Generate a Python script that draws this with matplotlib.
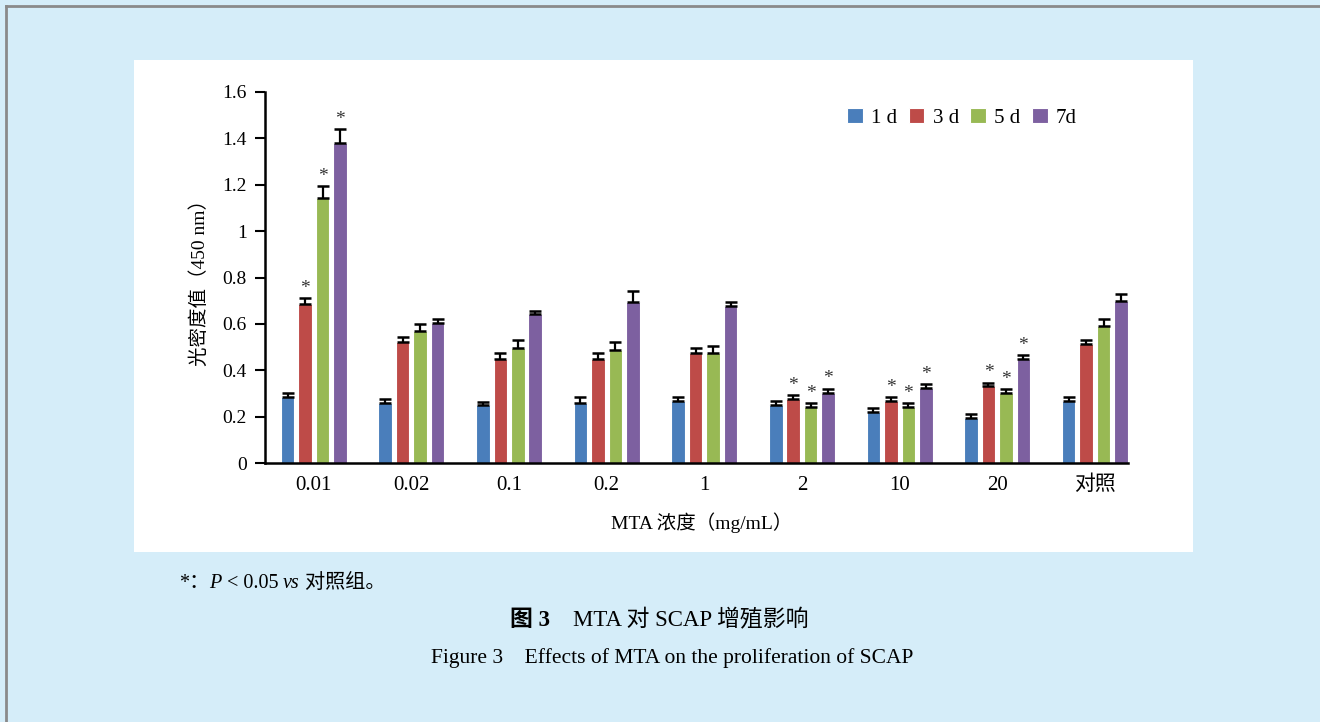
import matplotlib
matplotlib.use("Agg")
import matplotlib.pyplot as plt
from matplotlib.patches import Rectangle
import numpy as np

plt.rcParams['font.family'] = ['Liberation Serif', 'Noto Sans CJK SC', 'DejaVu Sans']

# --- data -------------------------------------------------------------
categories = ["0.01", "0.02", "0.1", "0.2", "1", "2", "10", "20", "对照"]
series_names = ["1 d", "3 d", "5 d", "7d"]
day1 = [0.286, 0.260, 0.250, 0.260, 0.267, 0.249, 0.221, 0.194, 0.267]
day3 = [0.686, 0.522, 0.450, 0.450, 0.476, 0.276, 0.267, 0.332, 0.512]
day5 = [1.141, 0.571, 0.496, 0.486, 0.476, 0.240, 0.240, 0.303, 0.592]
day7 = [1.381, 0.604, 0.641, 0.696, 0.677, 0.303, 0.322, 0.450, 0.700]
err1 = [0.014, 0.015, 0.013, 0.023, 0.018, 0.017, 0.015, 0.017, 0.018]
err3 = [0.024, 0.023, 0.024, 0.026, 0.018, 0.017, 0.016, 0.014, 0.018]
err5 = [0.053, 0.029, 0.033, 0.034, 0.027, 0.017, 0.017, 0.016, 0.029]
err7 = [0.059, 0.016, 0.016, 0.044, 0.017, 0.017, 0.017, 0.016, 0.030]
# significance markers (True = P < 0.05 vs control)
sig1 = [False] * 9
sig3 = [True, False, False, False, False, True, True, True, False]
sig5 = [True, False, False, False, False, True, True, True, False]
sig7 = [True, False, False, False, False, True, True, True, False]
yticks = [0, 0.2, 0.4, 0.6, 0.8, 1, 1.2, 1.4, 1.6]
ytick_labels = ["0", "0.2", "0.4", "0.6", "0.8", "1", "1.2", "1.4", "1.6"]

colors = ["#4a7ebb", "#be4b48", "#98b954", "#7d60a0"]

W, H = 1320, 722
fig = plt.figure(figsize=(W / 100, H / 100), dpi=100)
fig.patch.set_facecolor("#d5edf9")

# outer frame lines (top and left) and white chart panel
fig.add_artist(plt.Line2D([5.5 / W, 5.5 / W], [0, 1 - 5.5 / H], color="#8a8a8a", lw=2,
                          transform=fig.transFigure))
fig.add_artist(plt.Line2D([5.5 / W, 1], [1 - 5.5 / H, 1 - 5.5 / H], color="#8a8a8a", lw=2,
                          transform=fig.transFigure))
fig.add_artist(Rectangle((134 / W, 1 - 552 / H), (1193 - 134) / W, (552 - 60) / H,
                         transform=fig.transFigure, facecolor="white", edgecolor="none",
                         zorder=0))

ax = fig.add_axes([265 / W, 1 - 463 / H, (1128 - 265) / W, (463 - 92) / H])
ax.set_facecolor("none")

x = np.arange(len(categories))
pitch = 0.179
width = 0.139
values = [day1, day3, day5, day7]
errors = [err1, err3, err5, err7]
sigs = [sig1, sig3, sig5, sig7]
for i, (vals, errs, sg) in enumerate(zip(values, errors, sigs)):
    xs = x + (i - 1.5) * pitch
    ax.bar(xs, vals, width, color=colors[i], edgecolor="white", linewidth=0.8,
           label=series_names[i], zorder=2, clip_on=False)
    ax.errorbar(xs, vals, yerr=[np.zeros(len(vals)), errs], fmt="none", ecolor="black",
                elinewidth=1.6, capsize=4.3, capthick=1.8, zorder=3, clip_on=False)
    for xi, v, e, s in zip(xs, vals, errs, sg):
        if s:
            ax.annotate("*", (xi, v + e), xytext=(0, 1), textcoords="offset points",
                        ha="center", va="bottom", fontsize=14, color="#333333")

ax.set_xlim(-0.5, len(categories) - 1 + 0.34)
ax.set_ylim(0, 1.6)
ax.set_yticks(yticks)
ax.set_yticklabels(ytick_labels, fontsize=14)
ax.set_xticks(x)
ax.set_xticklabels(categories, fontsize=15)
ax.tick_params(axis="x", length=0, pad=9)
ax.tick_params(axis="y", length=7, width=1.5, direction="out", pad=6)
for side in ("top", "right"):
    ax.spines[side].set_visible(False)
for side in ("left", "bottom"):
    ax.spines[side].set_linewidth(1.8)

ax.set_ylabel("光密度值（450 nm）", fontsize=14)
ax.yaxis.set_label_coords(-56 / 863, 0.5)
fig.text(702 / W, 1 - 523 / H, "MTA 浓度（mg/mL）", fontsize=14, ha="center", va="center")

leg = ax.legend(loc="center", bbox_to_anchor=(962 / W, 1 - 118 / H),
                bbox_transform=fig.transFigure, ncol=4, frameon=False, fontsize=15,
                handlelength=0.75, handleheight=0.75, handletextpad=0.4, columnspacing=0.55)

# captions below the chart panel
t = fig.text(179 / W, 1 - 583 / H, "*：", fontsize=14.5, va="center", ha="left")
t = ax.annotate("P", xy=(1, 0), xycoords=t, va="bottom", fontsize=14.5, style="italic")
t = ax.annotate(" < 0.05 ", xy=(1, 0), xycoords=t, va="bottom", fontsize=14.5)
t = ax.annotate("vs", xy=(1, 0), xycoords=t, va="bottom", fontsize=14.5, style="italic")
t = ax.annotate(" 对照组。", xy=(1, 0), xycoords=t, va="bottom", fontsize=14.5)

t = fig.text(510 / W, 1 - 621 / H, "图 3", fontsize=16.5, ha="left", va="center",
             weight="bold")
ax.annotate("    MTA 对 SCAP 增殖影响", xy=(1, 0), xycoords=t, va="bottom", fontsize=16.5)
fig.text(672 / W, 1 - 658 / H, "Figure 3    Effects of MTA on the proliferation of SCAP",
         fontsize=15.5, ha="center", va="center")

fig.savefig("out.png", dpi=100, facecolor=fig.get_facecolor())
